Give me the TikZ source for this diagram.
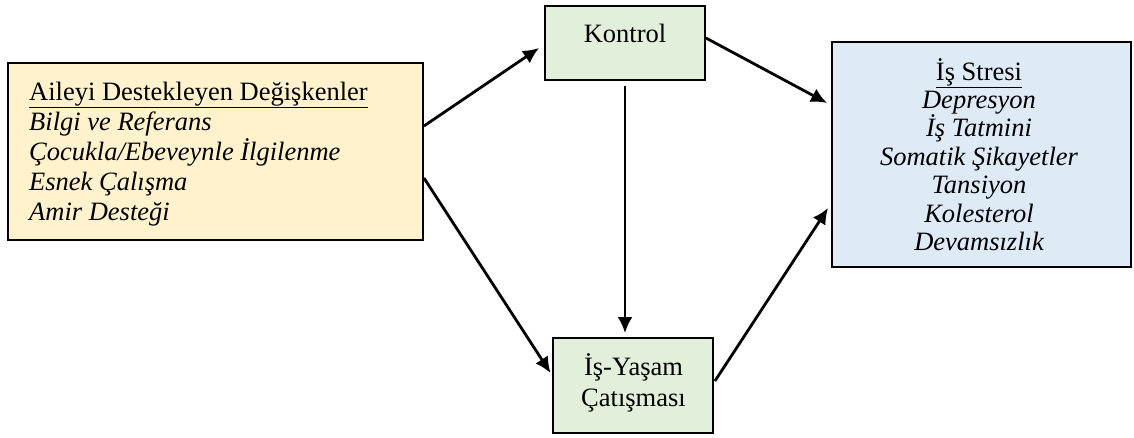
\documentclass[tikz,border=0pt]{standalone}
\usepackage{fontspec}
\setmainfont{Liberation Serif}
\usetikzlibrary{arrows.meta,calc}
\definecolor{fillL}{HTML}{FFF2CC}
\definecolor{fillG}{HTML}{E2EFDA}
\definecolor{fillB}{HTML}{DEEBF7}
\tikzset{
  box/.style={draw=black, line width=1.9pt, inner sep=0pt},
  txt/.style={inner sep=0pt, font=\fontsize{26.5}{30}\selectfont},
  arr/.style={line width=2.8pt, -{Latex[length=16pt,width=15pt]}},
}
\begin{document}
\begin{tikzpicture}[x=1pt,y=1pt]
\useasboundingbox (0,0) rectangle (1134,-437);
% boxes
\node[box, fill=fillL, minimum width=415pt, minimum height=177pt] (L) at (215.5,-151.5) {};
\node[box, fill=fillG, minimum width=160pt, minimum height=74pt] (K) at (625,-43) {};
\node[box, fill=fillG, minimum width=160pt, minimum height=95pt] (W) at (633,-385.5) {};
\node[box, fill=fillB, minimum width=299pt, minimum height=225pt] (S) at (981.5,-154.5) {};
% left texts
\node[txt, anchor=base west] (l1) at (29,-100) {\underline{Aileyi Destekleyen Değişkenler}};
\node[txt, anchor=base west] (l2) at (29,-130) {\itshape Bilgi ve Referans};
\node[txt, anchor=base west] (l3) at (29,-160) {\itshape Çocukla/Ebeveynle İlgilenme};
\node[txt, anchor=base west] (l4) at (29,-190) {\itshape Esnek Çalışma};
\node[txt, anchor=base west] (l5) at (29,-220) {\itshape Amir Desteği};
% kontrol
\node[txt, anchor=base] (k1) at (625,-42) {Kontrol};
% is-yasam
\node[txt, anchor=base] (w1) at (633.5,-375) {İş-Yaşam};
\node[txt, anchor=base] (w2) at (633.5,-406.7) {Çatışması};
% right texts
\node[txt, anchor=base] (s1) at (979,-80) {\underline{İş Stresi}};
\node[txt, anchor=base] (s2) at (979,-108.4) {\itshape Depresyon};
\node[txt, anchor=base] (s3) at (979,-136.8) {\itshape İş Tatmini};
\node[txt, anchor=base] (s4) at (979,-165.2) {\itshape Somatik Şikayetler};
\node[txt, anchor=base] (s5) at (979,-193.6) {\itshape Tansiyon};
\node[txt, anchor=base] (s6) at (979,-222) {\itshape Kolesterol};
\node[txt, anchor=base] (s7) at (979,-250.4) {\itshape Devamsızlık};
% arrows
\draw[arr] ([yshift=25.5pt]L.east) -- ([xshift=-5pt,yshift=-5pt]K.west);
\draw[arr] ([yshift=-26.5pt]L.east) -- ([xshift=-1.5pt,yshift=12.5pt]W.west);
\draw[arr] ([yshift=-5pt]K.south) -- ([yshift=4pt]K.south |- W.north);
\draw[arr] ([yshift=5pt]K.east) -- ([xshift=-4pt,yshift=51.5pt]S.west);
\draw[arr] ([xshift=1pt,yshift=4.5pt]W.east) -- ([xshift=-3pt,yshift=-53.5pt]S.west);
\end{tikzpicture}
\end{document}
